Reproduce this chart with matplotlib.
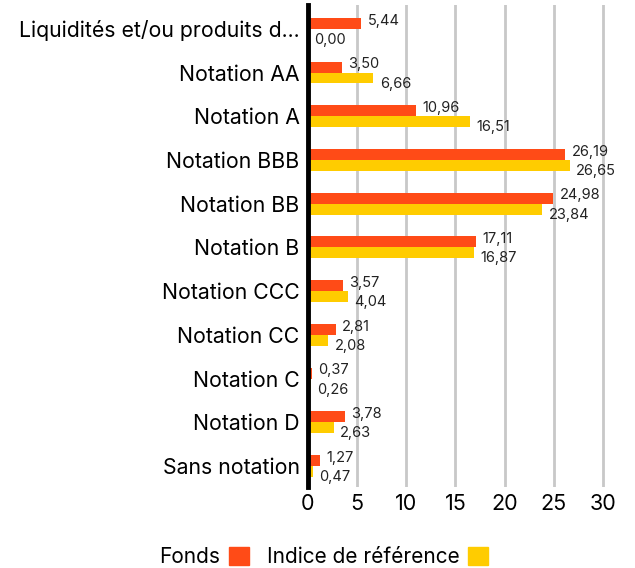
import matplotlib.pyplot as plt
import numpy as np
from matplotlib.patches import Patch

plt.rcParams['font.family'] = ['Inter', 'DejaVu Sans']

categories = ['Liquidités et/ou produits d...', 'Notation AA', 'Notation A',
              'Notation BBB', 'Notation BB', 'Notation B', 'Notation CCC',
              'Notation CC', 'Notation C', 'Notation D', 'Sans notation']
fonds = [5.44, 3.50, 10.96, 26.19, 24.98, 17.11, 3.57, 2.81, 0.37, 3.78, 1.27]
indice = [0.00, 6.66, 16.51, 26.65, 23.84, 16.87, 4.04, 2.08, 0.26, 2.63, 0.47]
xticks = [0, 5, 10, 15, 20, 25, 30]

orange = '#FF4B17'
yellow = '#FFCC00'

fig = plt.figure(figsize=(6.35, 5.68), dpi=100)
ax = fig.add_axes([0.485, 0.1426, 0.472, 0.849])

y = np.arange(len(categories))
h = 0.25
ax.barh(y - h / 2, fonds, height=h, color=orange, zorder=3)
ax.barh(y + h / 2, indice, height=h, color=yellow, zorder=3)

for i in range(len(categories)):
    ax.annotate(f'{fonds[i]:.2f}'.replace('.', ','), xy=(fonds[i], y[i] - h / 2),
                xytext=(4.5, 2), textcoords='offset points', ha='left', va='center',
                fontsize=10.5, color='#222222')
    ax.annotate(f'{indice[i]:.2f}'.replace('.', ','), xy=(indice[i], y[i] + h / 2),
                xytext=(4.5, -4), textcoords='offset points', ha='left', va='center',
                fontsize=10.5, color='#222222')

ax.set_yticks(y)
ax.set_yticklabels(categories, fontsize=15.3)
ax.set_ylim(10.48, -0.55)
ax.set_xlim(0, 30.5)
ax.set_xticks(xticks)
ax.set_xticklabels([str(t) for t in xticks], fontsize=15.5)
ax.tick_params(axis='both', length=0)
ax.tick_params(axis='y', pad=6)
ax.tick_params(axis='x', pad=5)

ax.grid(axis='x', color='#C8C8C8', linewidth=2, zorder=0)
for s in ['top', 'right', 'bottom']:
    ax.spines[s].set_visible(False)
ax.spines['left'].set_linewidth(3.5)
ax.spines['left'].set_color('black')
ax.spines['left'].set_zorder(4)

handles = [Patch(color=orange, label='Fonds'), Patch(color=yellow, label='Indice de référence')]
fig.legend(handles=handles, loc='lower center', bbox_to_anchor=(0.51, -0.032), ncol=2,
           markerfirst=False, frameon=False, fontsize=15, handlelength=0.95,
           handleheight=0.95, handletextpad=0.4, columnspacing=0.9)

fig.savefig('out.png', dpi=100)
